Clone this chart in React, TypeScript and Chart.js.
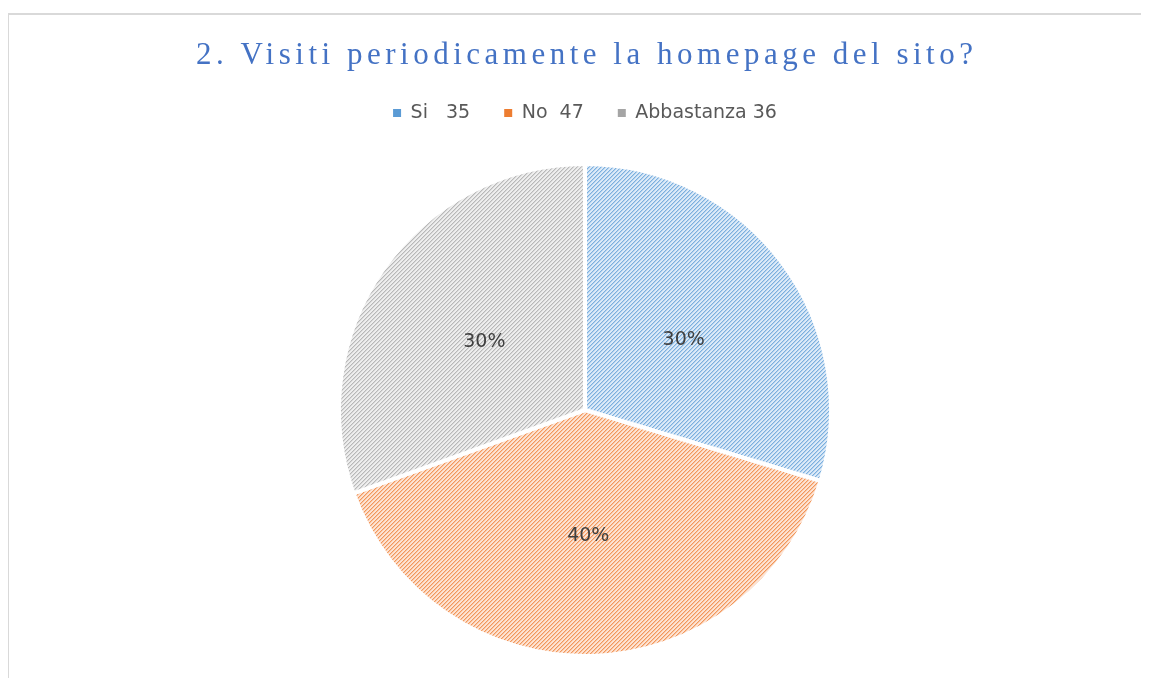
import React, { useEffect, useRef } from 'react';
import { Chart, registerables } from 'chart.js';

Chart.register(...registerables);

const chartTitle = '2. Visiti periodicamente la homepage del sito?';
const categories = ['Si   35', 'No  47', 'Abbastanza 36'];
const values = [35, 47, 36];
const pctLabels = ['30%', '40%', '30%'];
const fgColors = ['#5B9BD5', '#ED7D31', '#A5A5A5'];
const bgColors = ['#DCEAF8', '#FDE3D3', '#EEEEEE'];

function makePattern(fg: string, bg: string): CanvasPattern | string {
  const c = document.createElement('canvas');
  c.width = 4;
  c.height = 4;
  const x = c.getContext('2d');
  if (!x) return fg;
  x.fillStyle = bg;
  x.fillRect(0, 0, 4, 4);
  x.fillStyle = fg;
  for (let i = 0; i < 4; i++) {
    for (let j = 0; j < 4; j++) {
      const k = (i + j) % 4;
      if (k === 0) {
        x.globalAlpha = 0.75;
        x.fillRect(i, j, 1, 1);
      } else if (k === 1) {
        x.globalAlpha = 0.3;
        x.fillRect(i, j, 1, 1);
      }
    }
  }
  const p = x.createPattern(c, 'repeat');
  return p || fg;
}

const framePlugin = {
  id: 'frame',
  beforeDraw(chart: any) {
    const ctx = chart.ctx;
    ctx.save();
    ctx.fillStyle = '#D9D9D9';
    ctx.fillRect(0, 5, 2, chart.height);
    ctx.fillRect(0, 5, chart.width, 2);
    ctx.restore();
  },
};

const titlePlugin = {
  id: 'spacedTitle',
  afterDraw(chart: any) {
    const ctx = chart.ctx;
    ctx.save();
    ctx.font = '31px "Liberation Serif"';
    ctx.fillStyle = '#4472C4';
    ctx.textAlign = 'left';
    ctx.textBaseline = 'alphabetic';
    (ctx as any).letterSpacing = '0px';
    const base = ctx.measureText(chartTitle).width;
    const targetWidth = 777;
    const n = chartTitle.length;
    const ls = (targetWidth - base) / (n - 1);
    (ctx as any).letterSpacing = ls + 'px';
    ctx.fillText(chartTitle, 189, 56);
    (ctx as any).letterSpacing = '0px';
    ctx.restore();
  },
};

const labelsPlugin = {
  id: 'pctLabels',
  afterDatasetsDraw(chart: any) {
    const ctx = chart.ctx;
    const meta = chart.getDatasetMeta(0);
    ctx.save();
    ctx.font = '19px "DejaVu Sans"';
    ctx.fillStyle = '#404040';
    ctx.textAlign = 'center';
    ctx.textBaseline = 'middle';
    meta.data.forEach((arc: any, i: number) => {
      const p = arc.getCenterPoint();
      ctx.fillText(pctLabels[i], p.x, p.y + 3);
    });
    ctx.restore();
  },
};

export default function App() {
  const canvasRef = useRef<HTMLCanvasElement | null>(null);

  useEffect(() => {
    document.documentElement.style.overflow = 'hidden';
    document.body.style.overflow = 'hidden';
    const canvas = canvasRef.current;
    if (!canvas) return;
    const patterns = fgColors.map((fg, i) => makePattern(fg, bgColors[i]));
    const chart = new Chart(canvas, {
      type: 'pie',
      data: {
        labels: categories,
        datasets: [
          {
            data: values,
            backgroundColor: patterns as any,
            borderColor: '#FFFFFF',
            borderWidth: 4,
            radius: 246,
          } as any,
        ],
      },
      options: {
        animation: false,
        responsive: true,
        maintainAspectRatio: false,
        layout: {
          padding: { top: 61.5, left: 6, right: 0, bottom: 10.5 },
        },
        plugins: {
          title: { display: false },
          tooltip: { enabled: false },
          legend: {
            display: true,
            position: 'top',
            labels: {
              usePointStyle: true,
              pointStyle: 'rect',
              boxWidth: 8,
              boxHeight: 8,
              padding: 34,
              color: '#595959',
              font: { family: '"DejaVu Sans"', size: 19 },
              generateLabels: (ch: any) =>
                categories.map((text, i) => ({
                  text,
                  fillStyle: fgColors[i],
                  strokeStyle: fgColors[i],
                  lineWidth: 0,
                  pointStyle: 'rect',
                  fontColor: '#595959',
                  hidden: !ch.getDataVisibility(i),
                  index: i,
                })),
            },
          },
        },
      },
      plugins: [framePlugin, titlePlugin, labelsPlugin],
    });
    return () => {
      chart.destroy();
    };
  }, []);

  return (
    <div style={{ marginLeft: -1, width: 1150, height: 670, overflow: 'hidden', background: '#ffffff' }}>
      <div style={{ position: 'relative', width: 1150, height: 690 }}>
        <canvas ref={canvasRef} />
      </div>
    </div>
  );
}
